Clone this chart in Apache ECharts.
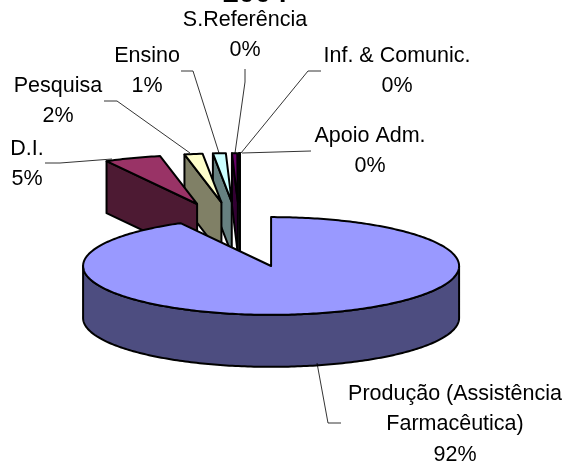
<!DOCTYPE html>
<html>
<head>
<meta charset="utf-8">
<style>
html,body{margin:0;padding:0;background:#fff;}
#main{width:568px;height:463px;}
</style>
<script src="https://cdn.jsdelivr.net/npm/echarts@6/dist/echarts.min.js"></script>
</head>
<body>
<div id="main"></div>
<script>
// dados
let categories = ['Produção (Assistência\nFarmacêutica)', 'D.I.', 'Pesquisa', 'Ensino', 'S.Referência', 'Inf. & Comunic.', 'Apoio Adm.'];
let values = [92.0, 4.85, 1.55, 1.1, 0.45, 0.03, 0.02];
let topColors = ['#9999ff', '#993366', '#ffffcc', '#ccffff', '#660066', '#ff8080', '#0066cc'];
let sideColors = ['#4d4d80', '#4d1a33', '#808066', '#668080', '#330033', '#804040', '#003366'];

// posicao dos rotulos (centro, primeira linha)
let labelPos = [[455, 394], [27, 149], [58, 86], [147, 56], [245, 20], [397, 56], [370, 136]];
let leaders = [
    [[317, 363], [328, 423], [341, 423]],
    [[45, 163], [60, 163], [112, 159]],
    [[104, 101], [117, 101], [190, 153]],
    [[181, 71], [193, 71], [219, 153]],
    [[245, 69], [245, 82], [235, 153]],
    [[321, 71], [308, 71], [241, 153]],
    [[311, 151], [242, 153]]
];

// pizza 3D explodida
let cx = 240, cy = 234.5, R = 188, k = 0.26, depth = 52, explode = 125;
let total = values.reduce((a, b) => a + b, 0);
let starts = [], sum = 0;
values.forEach(v => { starts.push(sum / total * Math.PI * 2); sum += v; });

function rim(o, a) {
    return [o[0] + R * Math.sin(a), o[1] - R * k * Math.cos(a)];
}
function down(p) {
    return [p[0], p[1] + depth];
}
function poly(points, fill) {
    return {
        type: 'polygon',
        shape: { points: points },
        style: { fill: fill, stroke: '#000', lineWidth: 2, lineJoin: 'round' }
    };
}
function arcPoints(o, a0, a1) {
    let pts = [], n = Math.max(2, Math.ceil(Math.abs(a1 - a0) * 60));
    for (let i = 0; i <= n; i++) pts.push(rim(o, a0 + (a1 - a0) * i / n));
    return pts;
}

function renderSlice(params, api) {
    let i = api.value(0);
    let a0 = starts[i];
    let a1 = a0 + api.value(1) / total * Math.PI * 2;
    let mid = (a0 + a1) / 2;
    let apex = [cx + explode * Math.sin(mid), cy - explode * k * Math.cos(mid)];
    let children = [];
    // parede externa (so a metade da frente aparece)
    let w0 = Math.max(a0, Math.PI / 2), w1 = Math.min(a1, Math.PI * 1.5);
    if (w1 > w0) {
        let front = arcPoints(apex, w0, w1);
        children.push(poly(front.concat(front.map(down).reverse()), sideColors[i]));
    }
    // face do corte, so nas fatias de tras
    if (i > 0) {
        let p = rim(apex, a0);
        children.push(poly([p, apex, down(apex), down(p)], sideColors[i]));
    }
    children.push(poly([apex].concat(arcPoints(apex, a0, a1)), topColors[i]));
    return { type: 'group', children: children };
}

let textStyle = { fontFamily: 'Liberation Sans', fontSize: 21.5, fill: '#000', align: 'center', verticalAlign: 'middle' };
let graphics = [];
leaders.forEach(l => {
    graphics.push({
        type: 'polyline',
        shape: { points: l },
        style: { stroke: '#000', lineWidth: 0.8, fill: null },
        z: 5
    });
});
categories.forEach((name, i) => {
    let lines = name.split('\n').concat(Math.round(values[i] / total * 100) + '%');
    lines.forEach((t, j) => {
        graphics.push({
            type: 'text',
            x: labelPos[i][0],
            y: labelPos[i][1] + j * 30.5,
            style: Object.assign({ text: t }, textStyle),
            z: 6
        });
    });
});
graphics.push({
    type: 'text',
    x: 255,
    y: -6,
    style: { text: '2004', fontFamily: 'Liberation Sans', fontWeight: 'bold', fontSize: 29, fill: '#000', align: 'center', verticalAlign: 'middle' },
    z: 6
});

let option = {
    backgroundColor: '#fff',
    animation: false,
    graphic: graphics,
    series: [{
        type: 'custom',
        coordinateSystem: 'none',
        renderItem: renderSlice,
        clip: false,
        silent: true,
        // de tras para a frente: a fatia maior por ultimo
        data: values.map((v, i) => [i, v]).reverse()
    }]
};
let myChart = echarts.init(document.getElementById('main'));
myChart.setOption(option);
</script>
</body>
</html>
